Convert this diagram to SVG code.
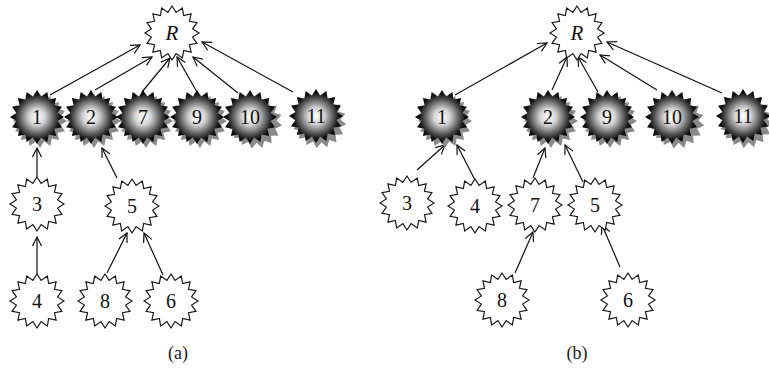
<svg xmlns="http://www.w3.org/2000/svg" width="769" height="372" viewBox="0 0 769 372">
<style>
.w{fill:#fff;stroke:#1a1a1a;stroke-width:1.2}
.d{fill:url(#g)}
.s{fill:#8a8a8a}
.t{font-family:"Liberation Serif","DejaVu Serif",serif;font-size:20px;text-anchor:middle;fill:#111}
.r{font-style:italic;font-size:21px}
.cap{font-family:"Liberation Serif","DejaVu Serif",serif;font-size:18px;text-anchor:middle;fill:#222}
.e{stroke:#111;stroke-width:1.2;fill:none;marker-end:url(#a)}
</style>
<defs>
<radialGradient id="g" cx="0.5" cy="0.5" r="0.5">
<stop offset="0" stop-color="#ffffff"/>
<stop offset="0.3" stop-color="#d4d4d4"/>
<stop offset="0.7" stop-color="#444"/>
<stop offset="0.85" stop-color="#111"/>
<stop offset="1" stop-color="#000"/>
</radialGradient>
<polygon id="st" points="27,0 20.6,4.1 24.95,10.33 17.46,11.67 19.09,19.09 11.67,17.46 10.33,24.95 4.1,20.6 0,27 -4.1,20.6 -10.33,24.95 -11.67,17.46 -19.09,19.09 -17.46,11.67 -24.95,10.33 -20.6,4.1 -27,0 -20.6,-4.1 -24.95,-10.33 -17.46,-11.67 -19.09,-19.09 -11.67,-17.46 -10.33,-24.95 -4.1,-20.6 0,-27 4.1,-20.6 10.33,-24.95 11.67,-17.46 19.09,-19.09 17.46,-11.67 24.95,-10.33 20.6,-4.1"/>
<marker id="a" markerUnits="userSpaceOnUse" markerWidth="14" markerHeight="12" refX="0" refY="0" viewBox="-10 -6 12 12" orient="auto" overflow="visible">
<path d="M-9,-4.5 L0,0 L-9,4.5" fill="none" stroke="#111" stroke-width="1.2"/>
</marker>
</defs>

<g id="connectors">
<line class="e" x1="50" y1="95" x2="140" y2="45"/>
<line class="e" x1="95" y1="90" x2="152" y2="57"/>
<line class="e" x1="142" y1="92" x2="170" y2="58"/>
<line class="e" x1="197" y1="92" x2="177" y2="57"/>
<line class="e" x1="238" y1="93" x2="193" y2="57"/>
<line class="e" x1="293" y1="92" x2="202" y2="42"/>
<line class="e" x1="37" y1="177" x2="37" y2="148"/>
<line class="e" x1="117" y1="178" x2="102" y2="148"/>
<line class="e" x1="37" y1="275" x2="37" y2="237"/>
<line class="e" x1="107" y1="273" x2="127" y2="233"/>
<line class="e" x1="163" y1="275" x2="144" y2="233"/>

<line class="e" x1="455" y1="95" x2="547" y2="43"/>
<line class="e" x1="552" y1="90" x2="567" y2="57"/>
<line class="e" x1="598" y1="92" x2="578" y2="57"/>
<line class="e" x1="657" y1="90" x2="600" y2="55"/>
<line class="e" x1="722" y1="93" x2="607" y2="42"/>
<line class="e" x1="417" y1="170" x2="445" y2="145"/>
<line class="e" x1="475" y1="180" x2="457" y2="145"/>
<line class="e" x1="533" y1="178" x2="545" y2="148"/>
<line class="e" x1="583" y1="182" x2="565" y2="145"/>
<line class="e" x1="515" y1="273" x2="533" y2="232"/>
<line class="e" x1="620" y1="267" x2="602" y2="225"/>
</g>

<!-- (a) -->
<g id="a-R" transform="translate(172,33)"><use href="#st" class="w"/><text class="t r" y="7">R</text></g>
<g id="a-1" transform="translate(37,117)"><use href="#st" class="s" x="3" y="4"/><use href="#st" class="d"/><text class="t" y="7">1</text></g>
<g id="a-2" transform="translate(91,117)"><use href="#st" class="s" x="3" y="4"/><use href="#st" class="d"/><text class="t" y="7">2</text></g>
<g id="a-7" transform="translate(143,117)"><use href="#st" class="s" x="3" y="4"/><use href="#st" class="d"/><text class="t" y="7">7</text></g>
<g id="a-9" transform="translate(197,117)"><use href="#st" class="s" x="3" y="4"/><use href="#st" class="d"/><text class="t" y="7">9</text></g>
<g id="a-10" transform="translate(250,117)"><use href="#st" class="s" x="6" y="4" transform="rotate(8)"/><use href="#st" class="d"/><text class="t" y="7">10</text></g>
<g id="a-11" transform="translate(316,116)"><use href="#st" class="s" x="4" y="5" transform="rotate(6)"/><use href="#st" class="d"/><text class="t" y="7">11</text></g>
<g id="a-3" transform="translate(37,204)"><use href="#st" class="w"/><text class="t" y="7">3</text></g>
<g id="a-5" transform="translate(132,206)"><use href="#st" class="w"/><text class="t" y="7">5</text></g>
<g id="a-4" transform="translate(37,301)"><use href="#st" class="w"/><text class="t" y="7">4</text></g>
<g id="a-8" transform="translate(105,301)"><use href="#st" class="w"/><text class="t" y="7">8</text></g>
<g id="a-6" transform="translate(171,301)"><use href="#st" class="w"/><text class="t" y="7">6</text></g>
<text class="cap" x="178" y="359">(a)</text>

<!-- (b) -->
<g id="b-R" transform="translate(577,33)"><use href="#st" class="w"/><text class="t r" y="7">R</text></g>
<g id="b-1" transform="translate(442,117)"><use href="#st" class="s" x="3" y="4"/><use href="#st" class="d"/><text class="t" y="7">1</text></g>
<g id="b-2" transform="translate(548,117)"><use href="#st" class="s" x="3" y="4"/><use href="#st" class="d"/><text class="t" y="7">2</text></g>
<g id="b-9" transform="translate(607,117)"><use href="#st" class="s" x="3" y="4"/><use href="#st" class="d"/><text class="t" y="7">9</text></g>
<g id="b-10" transform="translate(672,117)"><use href="#st" class="s" x="6" y="4" transform="rotate(8)"/><use href="#st" class="d"/><text class="t" y="7">10</text></g>
<g id="b-11" transform="translate(743,116)"><use href="#st" class="s" x="4" y="5" transform="rotate(6)"/><use href="#st" class="d"/><text class="t" y="7">11</text></g>
<g id="b-3" transform="translate(407,203)"><use href="#st" class="w"/><text class="t" y="7">3</text></g>
<g id="b-4" transform="translate(475,206)"><use href="#st" class="w"/><text class="t" y="7">4</text></g>
<g id="b-7" transform="translate(535,205)"><use href="#st" class="w"/><text class="t" y="7">7</text></g>
<g id="b-5" transform="translate(595,205)"><use href="#st" class="w"/><text class="t" y="7">5</text></g>
<g id="b-8" transform="translate(502,300)"><use href="#st" class="w"/><text class="t" y="7">8</text></g>
<g id="b-6" transform="translate(628,300)"><use href="#st" class="w"/><text class="t" y="7">6</text></g>
<text class="cap" x="577" y="359">(b)</text>
</svg>
